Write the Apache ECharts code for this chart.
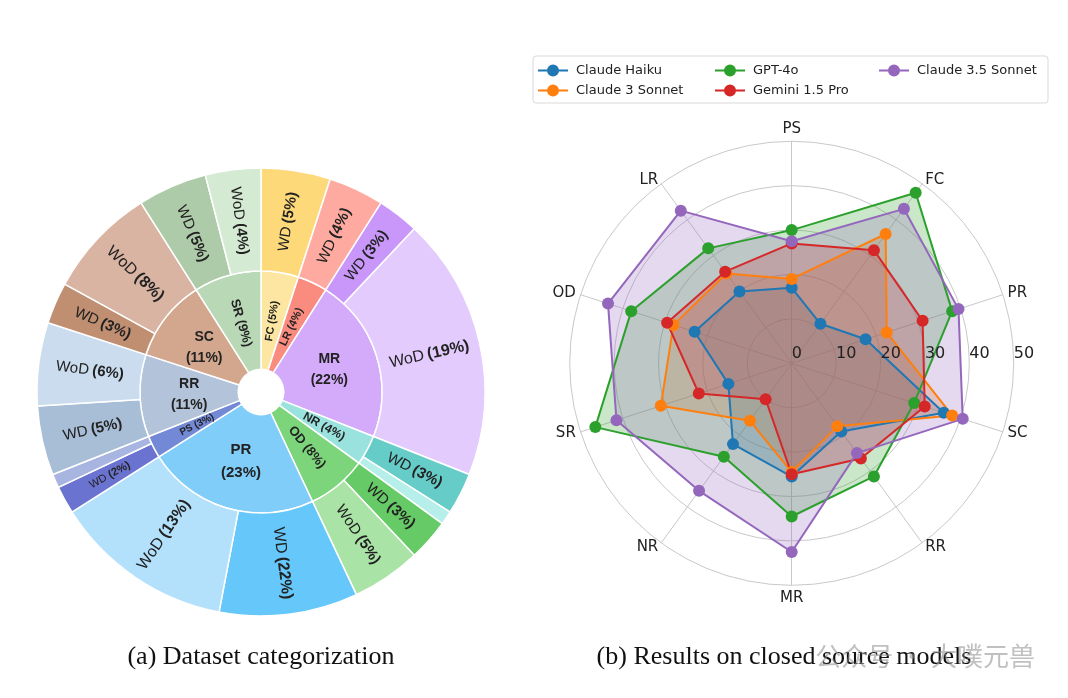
<!DOCTYPE html>
<html><head><meta charset="utf-8">
<script src="https://cdn.jsdelivr.net/npm/echarts@6/dist/echarts.min.js"></script>
<style>html,body{margin:0;padding:0;background:#fff}#c{width:1068px;height:698px}</style>
</head><body><div id="c"></div>
<script>
// ---------- Sunburst data (left) ----------
const innerNames  = ['FC','LR','MR','NR','OD','PR','PS','RR','SC','SR'];
const innerPct    = ['5%','4%','22%','4%','8%','23%','3%','11%','11%','9%'];
const innerValues = [5,4,22,4,8,23,3,11,11,9];
const outerParent = ['FC','LR','MR','MR','NR','NR','OD','OD','PR','PR','PS','PS','RR','RR','SC','SC','SR','SR'];
const outerNames  = ['WD','WD','WD','WoD','WD','WoD','WD','WoD','WD','WoD','WD','WoD','WD','WoD','WD','WoD','WD','WoD'];
const outerPct    = ['5%','4%','3%','19%','3%','','3%','5%','22%','13%','2%','','5%','6%','3%','8%','5%','4%'];
const outerValues = [5,4,3,19,3,1,3,5,10,13,2,1,5,6,3,8,5,4];

// ---------- Radar data (right) ----------
const radarAxes  = ['PS','FC','PR','SC','RR','MR','NR','SR','OD','LR'];
const radarTicks = [0,10,20,30,40,50];
const models = ['Claude Haiku','Claude 3 Sonnet','GPT-4o','Gemini 1.5 Pro','Claude 3.5 Sonnet'];
const haiku    = [17, 11, 17.5, 36, 19, 25.5, 22.5, 15, 23, 20];
const sonnet3  = [19, 36, 22.5, 38, 17.5, 24.5, 16, 31, 28, 25];
const gpt4o    = [30, 47.5, 38, 29, 31.5, 34.5, 26, 46.5, 38, 32];
const gemini   = [27, 31.5, 31, 31.5, 26.5, 25, 10, 22, 29.5, 25.5];
const sonnet35 = [27.5, 43, 39.5, 40.5, 25, 42.5, 35.5, 41.5, 43.5, 42.5];
const modelValues = [haiku, sonnet3, gpt4o, gemini, sonnet35];

// ---------- styles ----------
const modelColors = ['#1f77b4','#ff7f0e','#2ca02c','#d62728','#9467bd'];
const innerColor = {FC:'#FDE6A2', LR:'#FA8C7F', MR:'#D4AAFB', NR:'#99E2DD', OD:'#7DD57B', PR:'#80CDF9', PS:'#7389D5', RR:'#B3C3DA', SC:'#D2A78E', SR:'#B8D8B6'};
const outerColor = {
  'FC-WD':'#FED97A','LR-WD':'#FFAAA0','MR-WD':'#C897F9','MR-WoD':'#E3CCFD','NR-WD':'#66CCC8','NR-WoD':'#B6EEEA',
  'OD-WD':'#66CB66','OD-WoD':'#A9E3A5','PR-WD':'#66C7FB','PR-WoD':'#B3E1FC','PS-WD':'#6B73D0','PS-WoD':'#A8B5E0',
  'RR-WD':'#A8BDD6','RR-WoD':'#CADCEE','SC-WD':'#C08F72','SC-WoD':'#D9B4A2','SR-WD':'#AECBA9','SR-WoD':'#D5EAD3'};
const innerFont = {FC:11, LR:11, MR:14, NR:12, OD:13, PR:15, PS:10, RR:14, SC:14, SR:13};
const innerHorizontal = {MR:true, PR:true, RR:true, SC:true};
const outerFont = {'PS-WD':11, 'MR-WoD':16, 'PR-WoD':16, 'PR-WD':16, 'SC-WoD':16};
const SANS = 'Liberation Sans';
const TXT = '#222';

const sunData = innerNames.map((n, i) => {
  const children = [];
  outerParent.forEach((p, j) => {
    if (p !== n) return;
    const key = n + '-' + outerNames[j];
    const fs = outerFont[key] || 15;
    const has = outerPct[j] !== '';
    children.push({
      name: outerNames[j], value: outerValues[j],
      itemStyle: {color: outerColor[key]},
      label: {
        show: has, rotate: 'radial', fontFamily: SANS,
        formatter: has ? '{n|' + outerNames[j] + '} {p|(' + outerPct[j] + ')}' : '',
        rich: {n: {fontSize: fs, color: TXT, fontFamily: SANS}, p: {fontSize: fs, fontWeight: 'bold', color: TXT, fontFamily: SANS}}
      }
    });
  });
  const fs = innerFont[n];
  const horiz = !!innerHorizontal[n];
  return {
    name: n, value: innerValues[i], itemStyle: {color: innerColor[n]}, children,
    label: {
      rotate: horiz ? 0 : 'radial',
      formatter: horiz ? n + '\n(' + innerPct[i] + ')' : n + ' (' + innerPct[i] + ')',
      fontSize: fs, fontWeight: 'bold', lineHeight: Math.round(fs * 1.5), color: TXT, fontFamily: SANS
    }
  };
});

// radar indicators go counter-clockwise in ECharts; reverse to get clockwise order
const order = radarAxes.map((_, i) => (radarAxes.length - i) % radarAxes.length);
const RC = [791.7, 363.3], RR_ = 222;

// translucent fills first (underneath), then lines + markers on top
const fillSeries = models.map((m, k) => ({
  type: 'radar', name: '_fill_' + m, z: 2, silent: true,
  symbol: 'none', lineStyle: {width: 0, opacity: 0},
  areaStyle: {color: modelColors[k], opacity: 0.25},
  data: [{name: '_fill_' + m, value: order.map(i => modelValues[k][i])}]
}));
const lineSeries = models.map((m, k) => ({
  type: 'radar', name: m, z: 3, silent: true,
  symbol: 'circle', symbolSize: 12,
  lineStyle: {width: 2, color: modelColors[k]},
  itemStyle: {color: modelColors[k]},
  data: [{name: m, value: order.map(i => modelValues[k][i])}]
}));

const legendIcon = 'path://M0,5 L30,5 L30,7 L0,7 Z M15,0 A6,6 0 1,1 15,12 A6,6 0 1,1 15,0 Z';
const legendBase = {
  orient: 'vertical', top: 59, itemWidth: 30, itemHeight: 12, itemGap: 7, icon: legendIcon,
  selectedMode: false, textStyle: {fontSize: 13, color: TXT, fontFamily: 'DejaVu Sans', padding: [0, 0, 0, 3]}
};

const option = {
  backgroundColor: '#fff',
  animation: false,
  legend: [
    Object.assign({}, legendBase, {left: 533, data: [models[0], models[1]]}),
    Object.assign({}, legendBase, {left: 710, data: [models[2], models[3]]}),
    Object.assign({}, legendBase, {left: 874, data: [models[4]]})
  ],
  radar: {
    center: RC, radius: RR_, startAngle: 90, shape: 'circle', splitNumber: radarTicks.length - 1,
    indicator: order.map(i => ({name: radarAxes[i], min: radarTicks[0], max: radarTicks[radarTicks.length - 1]})),
    axisName: {color: TXT, fontSize: 15, fontFamily: 'DejaVu Sans'}, axisNameGap: 5,
    splitLine: {lineStyle: {color: '#c9c9c9', width: 1}},
    splitArea: {show: false},
    axisLine: {lineStyle: {color: '#c9c9c9', width: 1}},
    axisTick: {show: false}, axisLabel: {show: false}
  },
  polar: {center: RC, radius: RR_},
  angleAxis: {type: 'value', min: 0, max: 360, startAngle: 0, show: false},
  radiusAxis: {
    type: 'value', min: radarTicks[0], max: radarTicks[radarTicks.length - 1], interval: radarTicks[1] - radarTicks[0],
    axisLine: {show: false}, axisTick: {show: false}, splitLine: {show: false},
    axisLabel: {show: true, fontSize: 16, color: TXT, fontFamily: 'DejaVu Sans', align: 'left', margin: 1},
    z: 20
  },
  series: [
    {
      type: 'sunburst', center: [261, 392], sort: null, nodeClick: false, startAngle: 90, clockwise: true,
      radius: [22.7, 224], data: sunData,
      itemStyle: {borderColor: '#fff', borderWidth: 1.5},
      label: {fontFamily: SANS, color: TXT},
      emphasis: {disabled: true},
      levels: [{}, {r0: 22.7, r: 121}, {r0: 121, r: 224}]
    }
  ].concat(fillSeries, lineSeries),
  graphic: [
    {type: 'rect', z: -1, shape: {x: 533, y: 56, width: 515, height: 47, r: 3}, style: {fill: '#fff', stroke: '#d9d9d9', lineWidth: 1}},
    {type: 'text', z: 10, style: {text: '(a) Dataset categorization', x: 261, y: 657, textAlign: 'center', textVerticalAlign: 'middle', font: '26px "Liberation Serif"', fill: '#111'}},
    {type: 'text', z: 10, style: {text: '(b) Results on closed source models', x: 784, y: 657, textAlign: 'center', textVerticalAlign: 'middle', font: '26px "Liberation Serif"', fill: '#111'}},
    {type: 'text', z: 11, style: {text: '公众号 · 大噗元兽', x: 1035, y: 656, textAlign: 'right', textVerticalAlign: 'middle', font: '26px "Noto Sans CJK SC"', fill: 'rgba(140,140,140,0.55)'}}
  ]
};
const chart = echarts.init(document.getElementById('c'), null, {renderer: 'canvas'});
chart.setOption(option);
</script></body></html>
